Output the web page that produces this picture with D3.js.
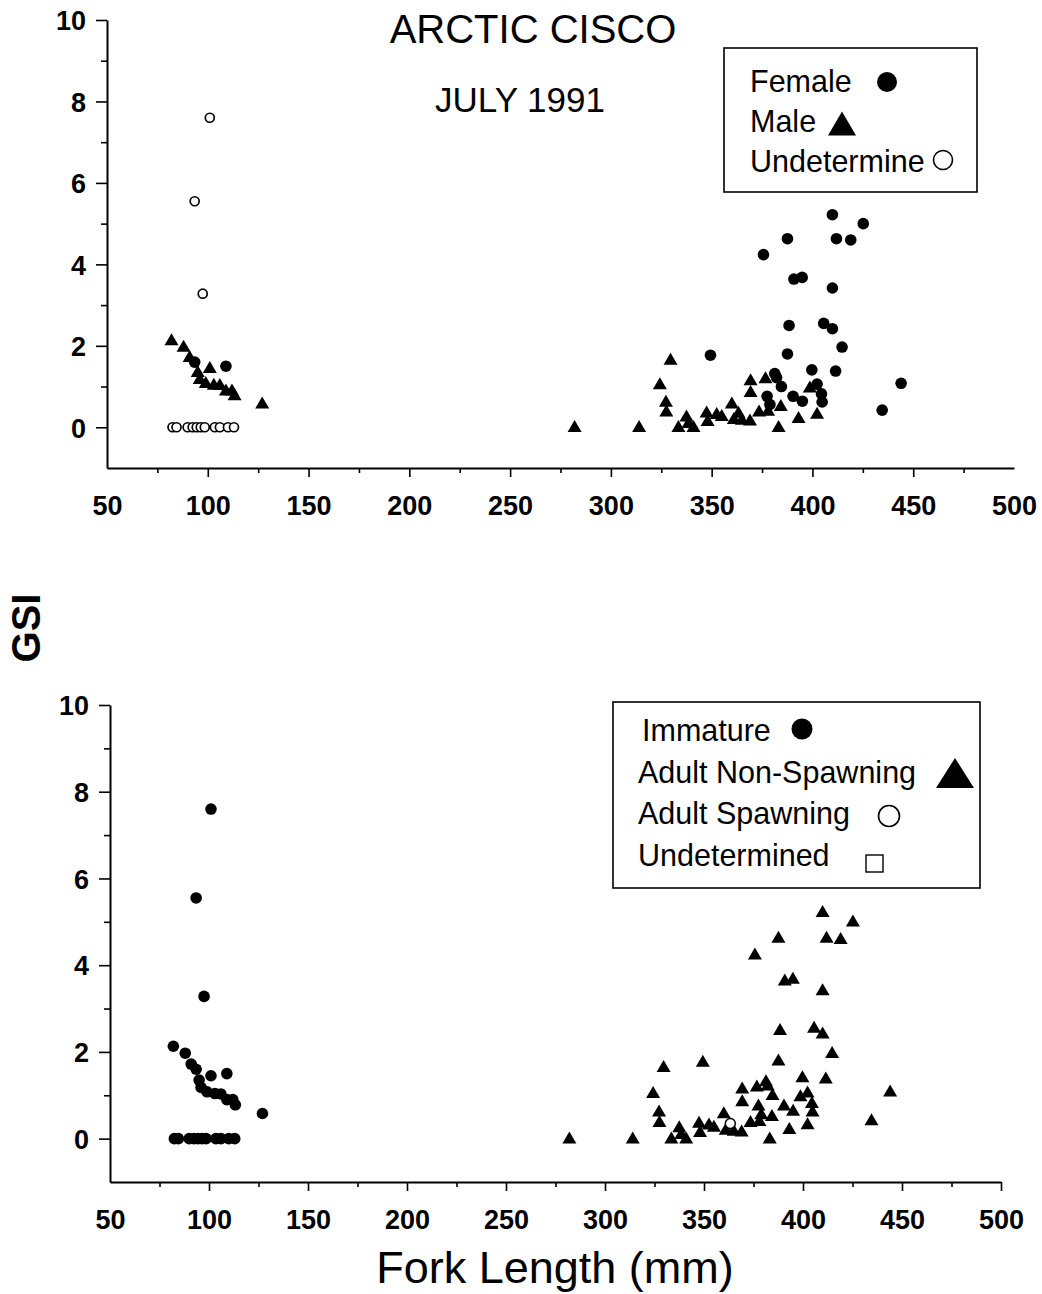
<!DOCTYPE html>
<html>
<head>
<meta charset="utf-8">
<script src="https://cdn.jsdelivr.net/npm/d3@7"></script>
<style>
  body { margin: 0; background: #fff; }
  svg { display: block; font-family: "Liberation Sans", Arial, Helvetica, sans-serif; }
</style>
</head>
<body>
<svg width="1042" height="1294"></svg>
<script>
// Arctic cisco, July 1991 - GSI vs fork length

// fish by sex (top panel); stage codes for the maturity panel:
// I = immature, N = adult non-spawning, S = adult spawning
var femaleLen = [93.5, 109, 409.9, 425.2, 387.6, 411.9, 419, 375.7, 390.8, 394.9, 409.9, 388.4, 405.6, 409.9,
  414.7, 349.4, 387.6, 399.7, 411.5, 444, 434.6, 381.3, 382.2, 384.6, 402.3, 390.4, 395, 404.5, 404.8, 377.5, 378.9];
var femaleGsi = [1.6, 1.5, 5.22, 5.0, 4.63, 4.63, 4.6, 4.24, 3.64, 3.68, 3.42, 2.5, 2.55, 2.42,
  1.97, 1.77, 1.8, 1.41, 1.38, 1.08, 0.42, 1.32, 1.22, 1.0, 1.06, 0.76, 0.64, 0.82, 0.62, 0.76, 0.56];
var femaleStage = "IINNNNNNNNNNNNNNNNNNNNNNNNNNNNN".split("");

var maleLen = [82, 88, 91, 95, 96, 99, 101, 103, 106, 109, 112, 113.3, 127,
  282, 314, 329.6, 324.3, 327.3, 327.5, 333.5, 337.5, 338.5, 341, 347.5, 348, 352.5, 355, 360,
  363.3, 361, 365, 369, 369.3, 369.3, 376.7, 373.5, 384.3, 393.1, 383.2, 402.3, 398.7, 378];
var maleGsi = [2.13, 1.97, 1.72, 1.35, 1.18, 1.08, 1.45, 1.04, 1.03, 0.9, 0.9, 0.78, 0.58,
  0, 0, 1.65, 1.05, 0.62, 0.38, 0, 0.26, 0.1, 0, 0.36, 0.15, 0.32, 0.27, 0.58,
  0.35, 0.2, 0.18, 0.16, 1.15, 0.86, 1.2, 0.38, 0.52, 0.22, 0, 0.33, 0.97, 0.4];
var maleStage = "IIIIIIIIIIIIINNNNNNNNNNNNNNNSNNNNNNNNNNNNN".split("");

var undetLen = [101, 93.5, 97.5, 82.5, 84.5, 90, 92.5, 94.5, 96.5, 98.5, 103.5, 106, 110, 113];
var undetGsi = [7.6, 5.55, 3.28, 0, 0, 0, 0, 0, 0, 0, 0, 0, 0, 0];
var undetStage = "IIIIIIIIIIIIII".split("");

var sexLabels = ["Female", "Male", "Undetermine"];
var stageLabels = ["Immature", "Adult Non-Spawning", "Adult Spawning", "Undetermined"];

var xLabelTicks = [50, 100, 150, 200, 250, 300, 350, 400, 450, 500];
var yLabelTicks = [0, 2, 4, 6, 8, 10];

var svg = d3.select("svg");
var font = '"Liberation Sans", Arial, Helvetica, sans-serif';

function zip(len, gsi, stage, sex) {
  return len.map(function (l, i) {
    return { len: l, gsi: gsi[i], stage: stage[i], sex: sex };
  });
}
var fish = zip(femaleLen, femaleGsi, femaleStage, "F")
  .concat(zip(maleLen, maleGsi, maleStage, "M"))
  .concat(zip(undetLen, undetGsi, undetStage, "U"));

function tri(w, h) {
  return "M0," + (-h * 0.6) + "L" + (w / 2) + "," + (h * 0.4) + "L" + (-w / 2) + "," + (h * 0.4) + "Z";
}

function panel(box, lastTick) {
  var x = d3.scaleLinear().domain([50, 500]).range([box.left, box.right]);
  var y = d3.scaleLinear().domain([-1, 10]).range([box.bottom, box.top]);
  var g = svg.append("g");

  // x axis: line + major/minor ticks + labels
  var gx = g.append("g").attr("transform", "translate(0," + box.bottom + ")");
  gx.call(d3.axisBottom(x).tickValues(d3.range(100, lastTick + 1, 50)).tickSize(9).tickSizeOuter(0).tickFormat(""));
  gx.append("g").call(d3.axisBottom(x).tickValues(d3.range(75, 500, 50)).tickSize(5).tickFormat(""))
    .select(".domain").remove();
  gx.append("g").call(d3.axisBottom(x).tickValues(xLabelTicks).tickSize(0).tickFormat(d3.format("d")))
    .call(function (s) { s.select(".domain").remove(); })
    .selectAll("text").attr("y", box.xLabY - box.bottom).attr("dy", 0);

  // y axis
  var gy = g.append("g").attr("transform", "translate(" + box.left + ",0)");
  gy.call(d3.axisLeft(y).tickValues(yLabelTicks).tickSize(11).tickSizeOuter(0).tickPadding(box.yPad).tickFormat(d3.format("d")));
  gy.append("g").call(d3.axisLeft(y).tickValues([1, 3, 5, 7, 9]).tickSize(6).tickFormat(""))
    .select(".domain").remove();

  g.selectAll(".domain").attr("stroke", "#000").attr("stroke-width", 2);
  g.selectAll(".tick line").attr("stroke", "#000").attr("stroke-width", 1.6);
  g.selectAll(".tick text").attr("fill", "#000").style("font-family", font)
    .style("font-size", "27px").style("font-weight", "bold");
  gy.selectAll(".tick text").attr("dy", "0.36em");

  return { x: x, y: y, g: g };
}

// ---------- top panel: by sex ----------
var pTop = panel({ left: 107, right: 1014, top: 20, bottom: 468, xLabY: 515, yPad: 10 }, 450);

pTop.g.append("g").selectAll("circle")
  .data(fish.filter(function (d) { return d.sex === "F"; }))
  .enter().append("circle")
  .attr("cx", function (d) { return pTop.x(d.len); })
  .attr("cy", function (d) { return pTop.y(d.gsi); })
  .attr("r", 5.8).attr("fill", "#000");

pTop.g.append("g").selectAll("path")
  .data(fish.filter(function (d) { return d.sex === "M"; }))
  .enter().append("path")
  .attr("d", tri(14, 12))
  .attr("transform", function (d) { return "translate(" + pTop.x(d.len) + "," + pTop.y(d.gsi) + ")"; })
  .attr("fill", "#000");

pTop.g.append("g").selectAll("circle")
  .data(fish.filter(function (d) { return d.sex === "U"; }))
  .enter().append("circle")
  .attr("cx", function (d) { return pTop.x(d.len); })
  .attr("cy", function (d) { return pTop.y(d.gsi); })
  .attr("r", 4.5).attr("fill", "#fff").attr("stroke", "#000").attr("stroke-width", 1.7);

svg.append("text").attr("x", 533).attr("y", 43).attr("text-anchor", "middle")
  .style("font-family", font).style("font-size", "40px").text("ARCTIC CISCO");
svg.append("text").attr("x", 520).attr("y", 112).attr("text-anchor", "middle")
  .style("font-family", font).style("font-size", "35px").text("JULY 1991");

// top legend
var lg1 = svg.append("g");
lg1.append("rect").attr("x", 724).attr("y", 48).attr("width", 253).attr("height", 144)
  .attr("fill", "#fff").attr("stroke", "#000").attr("stroke-width", 1.6);
lg1.selectAll("text").data(sexLabels).enter().append("text")
  .attr("x", 750).attr("y", function (d, i) { return 92 + i * 40; })
  .style("font-family", font).style("font-size", "30.5px").text(function (d) { return d; });
lg1.append("circle").attr("cx", 887).attr("cy", 82).attr("r", 10).attr("fill", "#000");
lg1.append("path").attr("d", tri(28, 24)).attr("transform", "translate(842,126)").attr("fill", "#000");
lg1.append("circle").attr("cx", 943).attr("cy", 160).attr("r", 9.5)
  .attr("fill", "#fff").attr("stroke", "#000").attr("stroke-width", 1.6);

// ---------- bottom panel: by maturity ----------
var pBot = panel({ left: 110, right: 1001, top: 705, bottom: 1182, xLabY: 1229, yPad: 10 }, 500);

pBot.g.append("g").selectAll("path")
  .data(fish.filter(function (d) { return d.stage === "N"; }))
  .enter().append("path")
  .attr("d", tri(14, 12))
  .attr("transform", function (d) { return "translate(" + pBot.x(d.len) + "," + pBot.y(d.gsi) + ")"; })
  .attr("fill", "#000");

pBot.g.append("g").selectAll("circle")
  .data(fish.filter(function (d) { return d.stage === "I"; }))
  .enter().append("circle")
  .attr("cx", function (d) { return pBot.x(d.len); })
  .attr("cy", function (d) { return pBot.y(d.gsi); })
  .attr("r", 5.8).attr("fill", "#000");

pBot.g.append("g").selectAll("circle")
  .data(fish.filter(function (d) { return d.stage === "S"; }))
  .enter().append("circle")
  .attr("cx", function (d) { return pBot.x(d.len); })
  .attr("cy", function (d) { return pBot.y(d.gsi); })
  .attr("r", 5).attr("fill", "#fff").attr("stroke", "#000").attr("stroke-width", 1.5);

// bottom legend
var lg2 = svg.append("g");
lg2.append("rect").attr("x", 613).attr("y", 702).attr("width", 367).attr("height", 186)
  .attr("fill", "#fff").attr("stroke", "#000").attr("stroke-width", 1.6);
lg2.selectAll("text").data(stageLabels).enter().append("text")
  .attr("x", function (d, i) { return i === 0 ? 642 : 638; })
  .attr("y", function (d, i) { return 741 + i * 41.5; })
  .style("font-family", font).style("font-size", "30.5px").text(function (d) { return d; });
lg2.append("circle").attr("cx", 802).attr("cy", 729).attr("r", 10.5).attr("fill", "#000");
lg2.append("path").attr("d", tri(38, 30)).attr("transform", "translate(955,776)").attr("fill", "#000");
lg2.append("circle").attr("cx", 889).attr("cy", 816).attr("r", 10.5)
  .attr("fill", "#fff").attr("stroke", "#000").attr("stroke-width", 1.6);
lg2.append("rect").attr("x", 866).attr("y", 855).attr("width", 17).attr("height", 17)
  .attr("fill", "#fff").attr("stroke", "#000").attr("stroke-width", 1.4);

// axis titles
svg.append("text").attr("transform", "translate(40,628) rotate(-90)").attr("text-anchor", "middle")
  .style("font-family", font).style("font-size", "40px").style("font-weight", "bold").text("GSI");
svg.append("text").attr("x", 555).attr("y", 1283).attr("text-anchor", "middle")
  .style("font-family", font).style("font-size", "45px").text("Fork Length (mm)");
</script>
</body>
</html>
